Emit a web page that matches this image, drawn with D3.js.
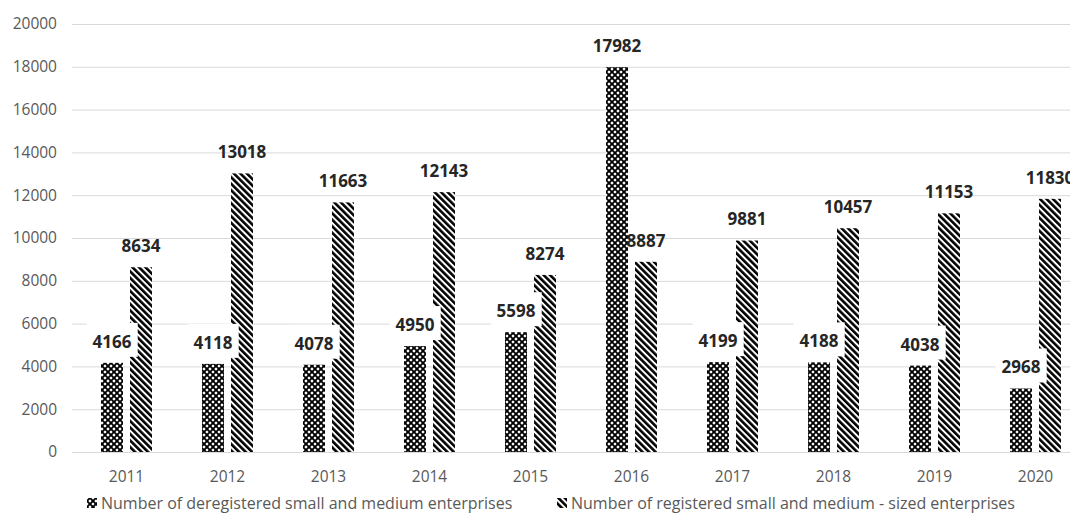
<!DOCTYPE html>
<html><head><meta charset="utf-8">
<script src="https://cdn.jsdelivr.net/npm/d3@7"></script>
<style>html,body{margin:0;padding:0;background:#fff;overflow:hidden}</style>
</head><body><svg id="c" width="1070" height="525"></svg>
<script>
const years = ["2011","2012","2013","2014","2015","2016","2017","2018","2019","2020"];
const deregistered = [4166,4118,4078,4950,5598,17982,4199,4188,4038,2968];
const registered = [8634,13018,11663,12143,8274,8887,9881,10457,11153,11830];
const yTicks = [0,2000,4000,6000,8000,10000,12000,14000,16000,18000,20000];
const seriesNames = ["Number of deregistered small and medium enterprises","Number of registered small and medium - sized enterprises"];

const svg = d3.select("#c");
const defs = svg.append("defs");
// crosshatch pattern
const p1 = defs.append("pattern").attr("id","pDereg").attr("patternUnits","userSpaceOnUse")
  .attr("width",6).attr("height",6);
p1.append("rect").attr("width",6).attr("height",6).attr("fill","#fff");
p1.append("path").attr("d","M0,0L6,6M6,0L0,6M-1,5L1,7M5,-1L7,1M-1,1L1,-1M5,7L7,5").attr("stroke","#000").attr("stroke-width",1.9);
// diagonal stripes
const p2 = defs.append("pattern").attr("id","pReg").attr("patternUnits","userSpaceOnUse")
  .attr("width",4.6).attr("height",10).attr("patternTransform","rotate(-45)");
p2.append("rect").attr("width",4.6).attr("height",10).attr("fill","#fff");
p2.append("rect").attr("width",2.6).attr("height",10).attr("fill","#000");

const x = d3.scaleBand().domain(years).range([76,1086]).padding(0);
const y = d3.scaleLinear().domain([0,20000]).range([452,24]);

// gridlines
svg.append("g").selectAll("line").data(yTicks).join("line")
  .attr("x1",72).attr("x2",1070).attr("y1",d=>y(d)+0.5).attr("y2",d=>y(d)+0.5)
  .attr("stroke","#d9d9d9").attr("stroke-width",1);

// y axis labels
const yAxis = d3.axisLeft(y).tickValues(yTicks).tickSize(0).tickPadding(0).tickFormat(d3.format("d"));
const ya = svg.append("g").attr("transform","translate(57,0)").call(yAxis);
ya.select(".domain").remove();
ya.selectAll("text").attr("font-family","Open Sans").attr("font-size",15.5).attr("fill","#595959");

// x axis labels
const xAxis = d3.axisBottom(x).tickSize(0).tickPadding(0);
const xa = svg.append("g").attr("transform","translate(0,469)").call(xAxis);
xa.select(".domain").remove();
xa.selectAll("text").attr("font-family","Open Sans").attr("font-size",15.5).attr("fill","#595959").attr("dy","0.35em").attr("y",8);

const bw = 22, gap = 3.5;
const cx = d => x(d) + x.bandwidth()/2;

svg.append("g").selectAll("rect").data(years).join("rect")
  .attr("x",(d)=>cx(d)-gap-bw).attr("width",bw)
  .attr("y",(d,i)=>y(deregistered[i])).attr("height",(d,i)=>y(0)-y(deregistered[i]))
  .attr("fill","url(#pDereg)");
svg.append("g").selectAll("rect").data(years).join("rect")
  .attr("x",(d)=>cx(d)+gap).attr("width",bw)
  .attr("y",(d,i)=>y(registered[i])).attr("height",(d,i)=>y(0)-y(registered[i]))
  .attr("fill","url(#pReg)");

// labels
function addLabels(vals, dx, boxed){
  const g = svg.append("g");
  years.forEach((yr,i)=>{
    const lx = cx(yr)+dx, ly = y(vals[i]) - 21;
    const t = g.append("text").attr("x",lx).attr("y",ly).attr("dy","0.35em")
      .attr("text-anchor","middle").attr("font-family","Open Sans").attr("font-weight","bold")
      .attr("font-size",17).attr("fill","#262626").text(vals[i]);
    if(boxed){
      const bb = t.node().getBBox();
      g.insert("rect", function(){return t.node();})
        .attr("x",bb.x-6).attr("width",bb.width+12)
        .attr("y",ly-19).attr("height",34).attr("fill","#fff");
    }
  });
}
addLabels(registered, gap+bw/2, false);
addLabels(deregistered, -(gap+bw/2), true);

// legend
const leg = svg.append("g");
const legItems = [{x:87, fill:"url(#pDereg)", name:seriesNames[0]},{x:557, fill:"url(#pReg)", name:seriesNames[1]}];
legItems.forEach(it=>{
  leg.append("rect").attr("x",it.x).attr("y",498).attr("width",10).attr("height",10).attr("fill",it.fill);
  leg.append("text").attr("x",it.x+14).attr("y",503).attr("dy","0.35em")
    .attr("font-family","Open Sans").attr("font-size",16).attr("fill","#595959").text(it.name);
});
</script></body></html>
